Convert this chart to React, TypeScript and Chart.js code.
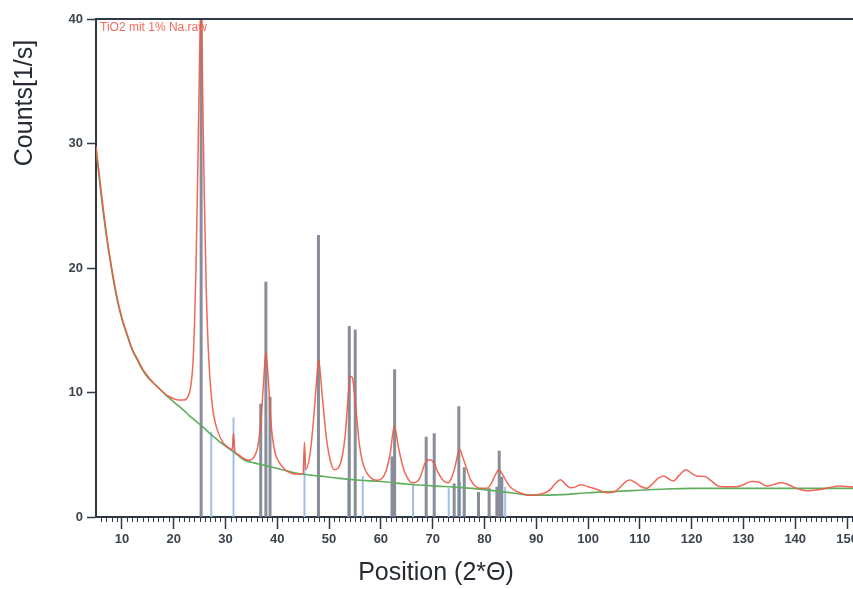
import { useEffect, useRef } from "react";
import { Chart, registerables } from "chart.js";

Chart.register(...registerables);

// ---- data (2θ in degrees, counts in 1/s) ----
const rawAngles = [
  5, 6, 7, 8, 9, 10, 11, 12, 13, 14,
  15, 16, 17, 18, 19, 20, 21, 22, 22.8, 23.3,
  23.8, 24.3, 24.7, 25.0, 25.3, 25.6, 25.9, 26.3, 26.8, 27.5,
  28.5, 29.5, 30.5, 31.3, 31.55, 31.8, 32.5, 33.5, 34.5, 35.5,
  36.2, 36.8, 37.3, 37.8, 38.3, 38.8, 39.5, 40.5, 41.5, 42.5,
  43.5, 44.5, 45.0, 45.25, 45.5, 46.3, 47.0, 47.5, 48.0, 48.5,
  49.0, 49.5, 50.2, 51.0, 51.7, 52.5, 53.1, 53.6, 54.1, 54.5,
  54.8, 55.3, 55.8, 56.4, 57.2, 58.2, 59.2, 60.2, 61.0, 61.8,
  62.6, 63.4, 64.2, 65.0, 66.0, 66.8, 67.6, 68.5, 69.2, 69.8,
  70.4, 70.9, 72.0, 73.0, 73.7, 74.3, 75.2, 75.8, 76.4, 77.3,
  78.3, 79.3, 80.4, 81.2, 81.9, 82.8, 83.5, 84.2, 85.0, 86,
  87.5, 88.8, 90.5, 91.7, 92.7, 93.6, 94.7, 95.7, 96.6, 97.5,
  98.6, 99.5, 100.4, 101.5, 102.5, 103.6, 105, 106.2, 107.3, 108.1,
  109, 110.2, 111.3, 112.3, 113.5, 114.6, 115.6, 116.5, 117.5, 118.9,
  120, 121, 122.6, 123.8, 125, 126.1, 128.7, 130.3, 131.5, 132.7,
  134.5, 135.8, 137.1, 138.4, 139.7, 141, 142.2, 143.5, 144.8, 146.5,
  148.6, 150, 152, 155.4,
];
const rawCounts = [
  29.8, 26.2, 22.8, 20.1, 17.8, 16.0, 14.7, 13.5, 12.7, 11.9,
  11.3, 10.8, 10.4, 10.0, 9.7, 9.5, 9.4, 9.4, 9.7, 10.5,
  13, 20, 29, 37, 41, 34, 26, 18, 12.5, 8.8,
  6.9, 6.0, 5.6, 5.4, 6.7, 5.3, 5.0, 4.7, 4.55, 4.8,
  5.6, 7.5, 10.5, 13.2, 10.8, 7.5, 5.3, 4.3, 3.8, 3.55,
  3.45, 3.45, 3.5, 6.0, 3.8, 5.0, 7.8, 10.5, 12.6, 10.6,
  8.3, 6.3, 4.6, 3.8, 3.9, 4.8, 6.5, 9.2, 11.3, 11.2,
  10.3, 8.2, 6.0, 4.5, 3.6, 3.1, 2.95, 3.1, 3.7, 5.1,
  7.3, 5.6, 4.1, 3.24, 2.75, 2.8, 3.2, 4.3, 4.6, 4.55,
  4.2, 3.7, 2.95, 2.75, 3.2, 4.0, 5.45, 4.8, 4.1, 3.0,
  2.45, 2.3, 2.3, 2.6, 3.2, 3.8, 3.4, 2.9, 2.4, 2.1,
  1.85, 1.75, 1.8, 1.95, 2.2, 2.65, 3.0, 2.6, 2.35, 2.4,
  2.6, 2.5, 2.38, 2.25, 2.1, 1.95, 2.0, 2.4, 2.85, 2.97,
  2.8, 2.45, 2.3, 2.6, 3.1, 3.3, 3.05, 2.9, 3.3, 3.8,
  3.5, 3.3, 3.25, 2.9, 2.5, 2.43, 2.43, 2.65, 2.85, 2.84,
  2.5, 2.6, 2.76, 2.65, 2.4, 2.2, 2.1, 2.15, 2.2, 2.35,
  2.49, 2.45, 2.4, 2.4,
];

const bgAngles = [
  5, 6, 7, 8, 9, 10, 11, 12, 13, 14, 15, 16, 17, 18, 19, 20, 21, 22, 23, 24,
  25, 26, 27, 28, 29, 30, 31, 32, 33, 34, 35, 37, 40, 44, 48, 52, 56, 60, 65, 70,
  75, 80, 85, 88, 90, 95, 100, 105, 110, 115, 120, 130, 140, 150, 155.4,
];
const bgCounts = [
  29.6, 25.8, 22.6, 19.9, 17.6, 15.9, 14.6, 13.4, 12.6, 11.8, 11.2, 10.8, 10.4, 10.0, 9.6, 9.25, 8.9, 8.55, 8.15, 7.8,
  7.45, 7.1, 6.7, 6.35, 6.0, 5.7, 5.4, 5.1, 4.75, 4.5, 4.4, 4.2, 3.9, 3.5, 3.3, 3.1, 2.95, 2.85, 2.65, 2.5,
  2.38, 2.2, 1.95, 1.78, 1.75, 1.8, 1.95, 2.05, 2.15, 2.25, 2.3, 2.3, 2.3, 2.3, 2.3,
];

const refAAngles = [25.3, 36.8, 37.8, 38.6, 47.95, 53.9, 55.05, 62.15, 62.65, 68.75, 70.3, 74.15, 75.05, 76.1, 78.85, 80.9, 82.4, 82.85, 83.35];
const refAHeights = [40, 9.1, 18.9, 9.66, 22.65, 15.35, 15.07, 4.85, 11.86, 6.45, 6.72, 2.7, 8.9, 4.0, 2.0, 2.3, 2.43, 5.33, 3.24];

const refBAngles = [27.25, 31.55, 45.25, 53.7, 56.5, 66.2, 73.1, 75.3, 84.0];
const refBHeights = [6.85, 8.0, 5.1, 3.0, 3.3, 2.6, 2.3, 2.84, 2.43];

const xTicks = [10, 20, 30, 40, 50, 60, 70, 80, 90, 100, 110, 120, 130, 140, 150];
const yTicks = [0, 10, 20, 30, 40];

const xTitle = "Position (2*Θ)";
const yTitle = "Counts[1/s]";
const seriesLabel = "TiO2 mit 1% Na.raw";

const AXIS = "#2f3946";
const FONT = "'Liberation Sans', Arial, Helvetica, sans-serif";

export default function App() {
  const ref = useRef<HTMLCanvasElement>(null);

  useEffect(() => {
    const canvas = ref.current;
    if (!canvas) return;

    const pts = (xs: number[], ys: number[]) => xs.map((x, i) => ({ x, y: ys[i] }));
    const sticks = (xs: number[], hs: number[]) =>
      xs.flatMap((x, i) => [
        { x, y: 0 },
        { x, y: hs[i] },
        { x, y: null as any },
      ]);

    const overlay = {
      id: "overlay",
      afterDraw(chart: any) {
        const { ctx, chartArea } = chart;
        const x = chart.scales.x;
        ctx.save();
        // minor ticks every degree
        ctx.strokeStyle = AXIS;
        ctx.lineWidth = 1;
        for (let v = Math.ceil(x.min) + 1; v <= x.max; v++) {
          if (v % 10 === 0) continue;
          const px = Math.round(x.getPixelForValue(v)) + 0.5;
          ctx.beginPath();
          ctx.moveTo(px, chartArea.bottom);
          ctx.lineTo(px, chartArea.bottom + 5);
          ctx.stroke();
        }
        // top frame line
        ctx.lineWidth = 2;
        ctx.beginPath();
        ctx.moveTo(chartArea.left - 1, chartArea.top);
        ctx.lineTo(chartArea.right, chartArea.top);
        ctx.stroke();

        // series label
        ctx.fillStyle = "#f26b5b";
        ctx.font = `12px ${FONT}`;
        ctx.textAlign = "left";
        ctx.textBaseline = "alphabetic";
        ctx.fillText(seriesLabel, chartArea.left + 4, chartArea.top + 12);

        // axis titles
        ctx.fillStyle = "#262b33";
        ctx.font = `25px ${FONT}`;
        ctx.textAlign = "center";
        ctx.fillText(xTitle, 436, 580);
        ctx.translate(31.5, 103);
        ctx.rotate(-Math.PI / 2);
        ctx.fillText(yTitle, 0, 0);
        ctx.restore();
      },
    };

    const tickFont = { family: FONT, size: 13, weight: "bold" as const };

    const chart = new Chart(canvas, {
      type: "line",
      data: {
        datasets: [
          {
            label: seriesLabel,
            data: pts(rawAngles, rawCounts),
            borderColor: "rgba(238,88,68,0.9)",
            borderWidth: 1.5,
            pointRadius: 0,
            cubicInterpolationMode: "monotone",
          },
          {
            label: "background",
            data: pts(bgAngles, bgCounts),
            borderColor: "#5fae5f",
            borderWidth: 1.6,
            pointRadius: 0,
            cubicInterpolationMode: "monotone",
          },
          {
            label: "reference A",
            data: sticks(refAAngles, refAHeights),
            borderColor: "rgba(115,121,136,0.85)",
            borderWidth: 3,
            pointRadius: 0,
            spanGaps: false,
            tension: 0,
          },
          {
            label: "reference B",
            data: sticks(refBAngles, refBHeights),
            borderColor: "#9fc0ea",
            borderWidth: 2,
            pointRadius: 0,
            spanGaps: false,
            tension: 0,
          },
        ],
      },
      options: {
        animation: false,
        responsive: false,
        devicePixelRatio: 1,
        layout: { padding: { top: 19, left: 0, right: 0, bottom: 0 } },
        plugins: {
          legend: { display: false },
          tooltip: { enabled: false },
          title: { display: false },
        },
        scales: {
          x: {
            type: "linear",
            min: 5,
            max: 155.4,
            afterBuildTicks: (s: any) => {
              s.ticks = xTicks.map((v) => ({ value: v }));
            },
            afterFit: (s: any) => {
              s.height = 72;
            },
            ticks: { autoSkip: false, maxRotation: 0, padding: 3, color: "#3c434d", font: tickFont },
            grid: { drawOnChartArea: false, drawTicks: true, tickLength: 12, tickColor: AXIS, tickWidth: 1.5 },
            border: { display: true, color: AXIS, width: 2 },
          },
          y: {
            type: "linear",
            min: 0,
            max: 40,
            afterBuildTicks: (s: any) => {
              s.ticks = yTicks.map((v) => ({ value: v }));
            },
            afterFit: (s: any) => {
              s.width = 96;
            },
            ticks: { padding: 4, color: "#3c434d", font: tickFont },
            grid: { drawOnChartArea: false, drawTicks: true, tickLength: 9, tickColor: AXIS, tickWidth: 1.5 },
            border: { display: true, color: AXIS, width: 2 },
          },
        },
      },
      plugins: [overlay],
    } as any);

    return () => chart.destroy();
  }, []);

  return (
    <div style={{ position: "absolute", left: 0, top: 0, width: 853, height: 589, overflow: "hidden", background: "#fff" }}>
      <canvas ref={ref} width={875} height={589} style={{ display: "block" }} />
    </div>
  );
}
